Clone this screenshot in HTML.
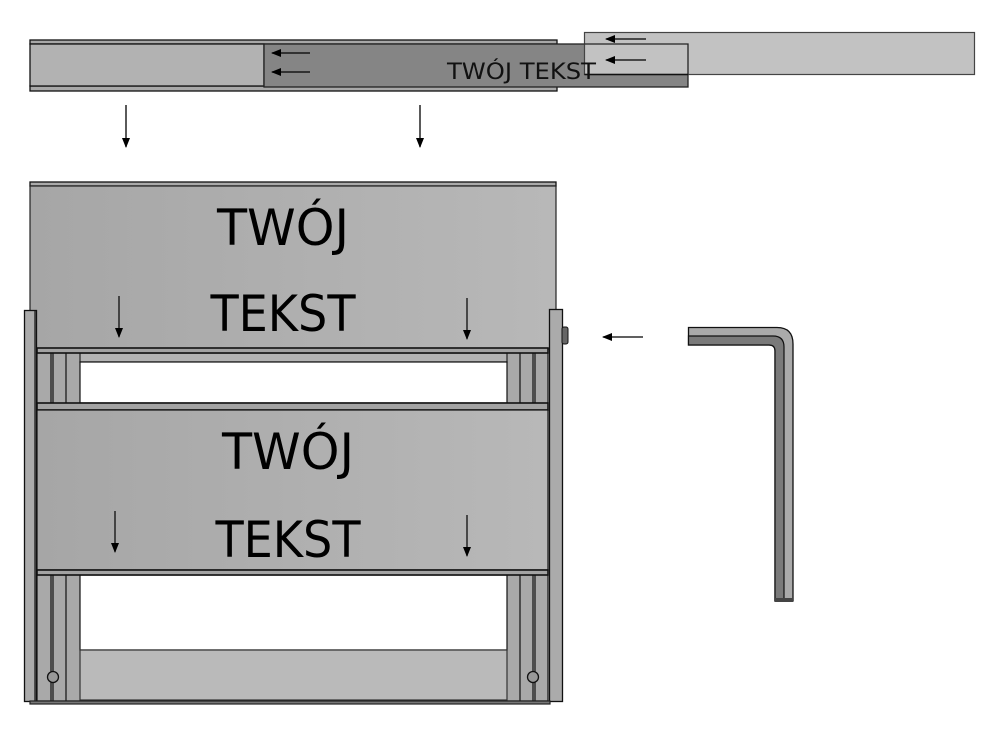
<!DOCTYPE html>
<html><head><meta charset="utf-8"><style>html,body{margin:0;padding:0;background:#fff}svg{display:block}</style></head>
<body>
<svg width="988" height="729" viewBox="0 0 988 729" xmlns="http://www.w3.org/2000/svg" font-family="'DejaVu Sans Condensed','Liberation Sans',sans-serif">
<defs>
<marker id="ah" markerWidth="10" markerHeight="8" refX="9" refY="4" orient="auto" markerUnits="userSpaceOnUse"><path d="M0,0 L10,4 L0,8 Z" fill="#000"/></marker>
<linearGradient id="g1" x1="0" x2="1"><stop offset="0" stop-color="#a6a6a6"/><stop offset="1" stop-color="#b8b8b8"/></linearGradient>
</defs>
<!-- top rail -->
<rect x="30" y="40" width="527" height="4" fill="#a8a8a8" stroke="#111" stroke-width="1.3"/>
<rect x="30" y="86" width="527" height="5" fill="#a8a8a8" stroke="#111" stroke-width="1.3"/>
<rect x="30" y="44" width="234" height="42" fill="#b2b2b2" stroke="#111" stroke-width="1.3"/>
<rect x="264" y="44" width="424" height="43" fill="#858585" stroke="#222" stroke-width="1.3"/>
<rect x="584.5" y="32.5" width="390" height="42" fill="#c2c2c2" stroke="#444" stroke-width="1.2"/>
<path d="M584.5 44 H688 V74.5" fill="none" stroke="#222" stroke-width="1.3"/>
<line x1="584.5" y1="74.5" x2="688" y2="74.5" stroke="#111" stroke-width="1.5"/>
<text x="447" y="79" font-size="22" textLength="149" lengthAdjust="spacingAndGlyphs" fill="#111">TWÓJ TEKST</text>
<g stroke="#000" stroke-width="1.3" marker-end="url(#ah)">
<line x1="310" y1="53" x2="272" y2="53"/><line x1="310" y1="72" x2="272" y2="72"/>
<line x1="646" y1="39" x2="606" y2="39"/><line x1="646" y1="60" x2="606" y2="60"/>
<line x1="126" y1="105" x2="126" y2="147"/><line x1="420" y1="105" x2="420" y2="147"/>
<line x1="643" y1="337" x2="603" y2="337"/>
</g>
<!-- lower assembly -->
<rect x="30" y="182" width="526" height="4" fill="#aaa" stroke="#111" stroke-width="1.3"/>
<rect x="30" y="186" width="526" height="163" fill="url(#g1)" stroke="#222" stroke-width="1.2"/>
<rect x="37" y="349" width="511" height="352" fill="#a9a9a9" stroke="#111" stroke-width="1.2"/>
<g stroke="#111" stroke-width="1.2">
<line x1="51" y1="349" x2="51" y2="701"/><line x1="53" y1="349" x2="53" y2="701"/><line x1="66" y1="349" x2="66" y2="701"/>
<line x1="520" y1="349" x2="520" y2="701"/><line x1="533" y1="349" x2="533" y2="701"/><line x1="535" y1="349" x2="535" y2="701"/>
</g>
<rect x="80" y="353" width="427" height="9" fill="#b4b4b4" stroke="#222" stroke-width="1.2"/>
<rect x="80" y="362" width="427" height="41" fill="#fff" stroke="#111" stroke-width="1.2"/>
<rect x="80" y="575" width="427" height="75" fill="#fff" stroke="#111" stroke-width="1.2"/>
<rect x="80" y="650" width="427" height="50" fill="#bababa" stroke="#333" stroke-width="1.2"/>
<rect x="37" y="348" width="511" height="5" fill="#a3a3a3" stroke="#111" stroke-width="1.6"/>
<rect x="37" y="403" width="511" height="7" fill="#a3a3a3" stroke="#111" stroke-width="1.6"/>
<rect x="37" y="410" width="511" height="160" fill="url(#g1)" stroke="#111" stroke-width="1.2"/>
<rect x="37" y="570" width="511" height="5" fill="#a3a3a3" stroke="#111" stroke-width="1.6"/>
<!-- posts -->
<rect x="24.5" y="310.5" width="12" height="391" fill="#ababab" stroke="#111" stroke-width="1.3"/>
<line x1="35" y1="311" x2="35" y2="701" stroke="#111" stroke-width="1.2"/>
<rect x="549.5" y="309.5" width="13" height="392" fill="#ababab" stroke="#111" stroke-width="1.3"/>
<rect x="562" y="327" width="6" height="17" rx="2" fill="#666" stroke="#111"/>
<rect x="30" y="701" width="520" height="3" fill="#777" stroke="#222" stroke-width="1.2"/>
<circle cx="53" cy="677" r="5.5" fill="#999" stroke="#111" stroke-width="1.3"/>
<circle cx="533" cy="677" r="5.5" fill="#999" stroke="#111" stroke-width="1.3"/>
<!-- texts -->
<g fill="#000" font-size="50" text-anchor="middle">
<text x="283" y="245" textLength="132" lengthAdjust="spacingAndGlyphs">TWÓJ</text>
<text x="283" y="331" textLength="145" lengthAdjust="spacingAndGlyphs">TEKST</text>
<text x="288" y="469" textLength="132" lengthAdjust="spacingAndGlyphs">TWÓJ</text>
<text x="288" y="557" textLength="145" lengthAdjust="spacingAndGlyphs">TEKST</text>
</g>
<g stroke="#000" stroke-width="1.2" marker-end="url(#ah)">
<line x1="119" y1="296" x2="119" y2="337"/><line x1="467" y1="298" x2="467" y2="339"/>
<line x1="115" y1="511" x2="115" y2="552"/><line x1="467" y1="515" x2="467" y2="556"/>
</g>
<!-- hex key -->
<path d="M688.5 327.5 H777 Q793 327.5 793 344 V601 H775 V351 Q775 345 769 345 H688.5 Z" fill="#aaa" stroke="#111" stroke-width="1.3"/>
<path d="M688.5 336 H773 Q784 336 784 347 V601 H775 V351 Q775 345 769 345 H688.5 Z" fill="#7a7a7a" stroke="#111" stroke-width="1.2"/>
<rect x="775" y="598" width="18" height="4" fill="#444"/>
</svg>
</body></html>
